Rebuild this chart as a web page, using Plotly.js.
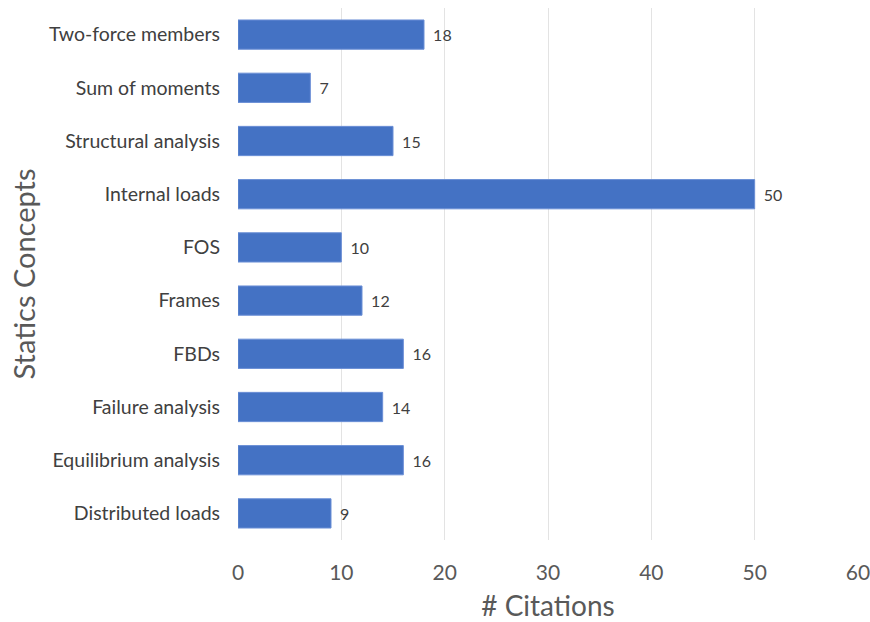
<!DOCTYPE html>
<html>
<head>
<meta charset="utf-8">
<script src="https://cdn.plot.ly/plotly-3.0.1.min.js"></script>
<style>html,body{margin:0;padding:0;background:#fff;}</style>
</head>
<body>
<div id="chart" style="width:870px;height:622px;"></div>
<script>
const concepts = ["Two-force members","Sum of moments","Structural analysis","Internal loads","FOS","Frames","FBDs","Failure analysis","Equilibrium analysis","Distributed loads"];
const citations = [18,7,15,50,10,12,16,14,16,9];
const xTicks = [0,10,20,30,40,50,60];

const font = "Lato, 'Open Sans', sans-serif";
Plotly.newPlot("chart", [{
  type: "bar",
  orientation: "h",
  y: concepts,
  x: citations,
  text: citations.map(v => "\u2009 " + v),
  textposition: "outside",
  cliponaxis: false,
  textfont: {family: font, size: 16, color: "#404040"},
  marker: {color: "#4472C4", line: {color: "#6b8fd6", width: 1}},
  hoverinfo: "none"
}], {
  width: 870, height: 622,
  margin: {l: 238, r: 12, t: 8, b: 82},
  bargap: 0.45,
  paper_bgcolor: "#fff", plot_bgcolor: "#fff",
  showlegend: false,
  font: {family: font, color: "#595959"},
  xaxis: {
    range: [0, 60], tickvals: xTicks, ticktext: xTicks.map(String),
    showgrid: true, gridcolor: "#e3e3e3", gridwidth: 1,
    zeroline: false, showline: false, ticks: "",
    ticklabelstandoff: 18,
    ticklabeloverflow: "allow",
    tickfont: {size: 21, color: "#595959"},
    title: {text: "# Citations", font: {size: 28, color: "#595959"}, standoff: 14}
  },
  yaxis: {
    categoryorder: "array", categoryarray: concepts.slice().reverse(),
    showgrid: false, zeroline: false, showline: false, ticks: "",
    ticklabelstandoff: 17,
    tickfont: {size: 19.5, color: "#404040"},
    title: {text: "Statics Concepts", font: {size: 29, color: "#595959"}, standoff: 4}
  }
}, {displayModeBar: false, staticPlot: true});
</script>
</body>
</html>
